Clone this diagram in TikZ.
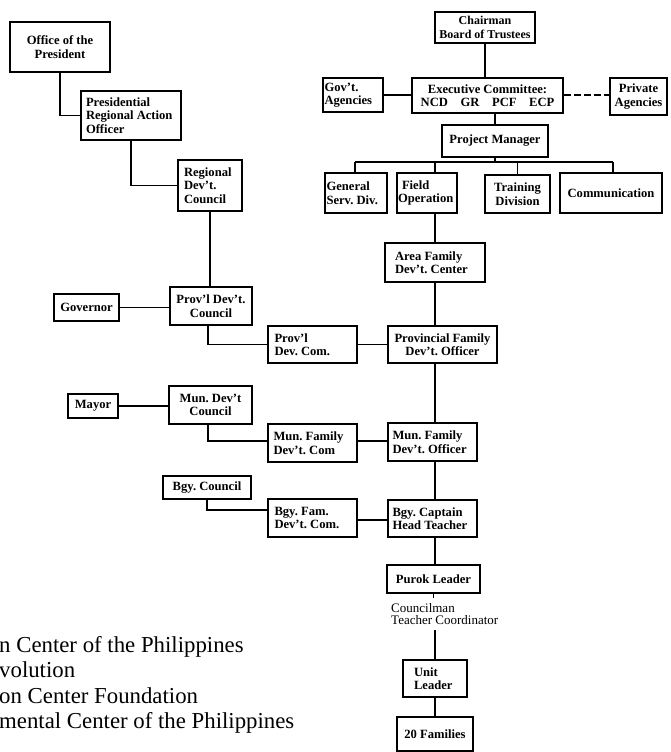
\documentclass[tikz,border=0pt]{standalone}
\usepackage{fontspec}
\setmainfont{Liberation Serif}
\frenchspacing
\begin{document}
\begin{tikzpicture}[x=1pt,y=-1pt,
  box/.style={draw, line width=1.6pt, font=\bfseries\fontsize{12.6}{13.5}\selectfont,
              inner sep=1pt, align=center},
  lbox/.style={box, align=flush left, text width=#1},
  link/.style={line width=1.4pt},
  legend/.style={font=\fontsize{22.8}{25}\selectfont, inner sep=0pt, anchor=base west},
]
\useasboundingbox (0,0) rectangle (671,752);

% ---------- government line (left) ----------
\node[box, minimum width=100pt, minimum height=50pt] (office) at (60,47) {Office of the\\President};
\node[lbox=90pt, minimum width=100pt, minimum height=49pt] (prao) at (131,115.5) {Presidential\\Regional Action\\Officer};
\node[lbox=52pt, minimum width=64pt, minimum height=51pt] (rdc) at (210,185.5) {Regional\\Dev't.\\Council};
\node[box, minimum width=82pt, minimum height=38pt] (pdc) at (211,306) {Prov'l Dev't.\\Council};
\node[box, minimum width=65pt, minimum height=27pt] (governor) at (86.5,307.5) {Governor};
\node[lbox=76pt, minimum width=89pt, minimum height=37pt] (pdcom) at (312.5,344.5) {Prov'l\\Dev. Com.};
\node[box, minimum width=83pt, minimum height=38pt] (mdc) at (210.5,405) {Mun. Dev't\\Council};
\node[box, minimum width=50pt, minimum height=24pt] (mayor) at (93,406) {Mayor};
\node[lbox=78pt, minimum width=89pt, minimum height=38pt] (mfdcom) at (312.5,443) {Mun. Family\\Dev't. Com};
\node[box, minimum width=88pt, minimum height=23pt] (bgyc) at (207,487.5) {Bgy. Council};
\node[lbox=76pt, minimum width=89pt, minimum height=38pt] (bgyfam) at (312.5,518) {Bgy. Fam.\\Dev't. Com.};

% ---------- foundation line (right) ----------
\node[box, minimum width=100pt, minimum height=31pt, font=\bfseries\fontsize{12}{13.5}\selectfont]
  (chair) at (485,27.5) {Chairman\\Board of Trustees};
\node[box, minimum width=151pt, minimum height=35pt] (exec) at (487.5,95.5) {Executive Committee:\\NCD\quad GR\quad PCF\quad ECP};
\node[lbox=57pt, minimum width=60pt, minimum height=34pt] (gov) at (353,95) {Gov't.\\Agencies};
\node[box, minimum width=57pt, minimum height=37pt] (priv) at (638.5,96.5) {Private\\Agencies};
\node[box, minimum width=106pt, minimum height=32pt] (pm) at (495,141) {Project Manager};
\node[lbox=59pt, minimum width=62pt, minimum height=40pt] (gsd) at (356,193) {General\\Serv. Div.};
\node[lbox=58pt, minimum width=60pt, minimum height=40pt] (fop) at (427,193) {\hspace*{4pt}Field\\Operation};
\node[box, minimum width=65pt, minimum height=38pt] (tdiv) at (517.5,194) {Training\\Division};
\node[box, minimum width=102pt, minimum height=40pt] (comm) at (611,193) {Communication};

\node[lbox=80pt, minimum width=100pt, minimum height=39pt] (afdc) at (435,262.5) {Area Family\\Dev't. Center};
\node[box, minimum width=109pt, minimum height=37pt] (pfdo) at (442.5,344.5) {Provincial Family\\Dev't. Officer};
\node[lbox=80pt, minimum width=89pt, minimum height=38pt] (mfdo) at (432.5,442) {Mun. Family\\Dev't. Officer};
\node[lbox=80pt, minimum width=89pt, minimum height=37pt] (bgycap) at (432.5,518.5) {Bgy. Captain\\Head Teacher};
\node[box, minimum width=93pt, minimum height=28pt] (purok) at (433.5,579) {Purok Leader};
\node[font=\fontsize{13}{12}\selectfont, align=left, anchor=north west, inner sep=0pt]
  (coordinator) at (391,603) {Councilman\\Teacher Coordinator};
\node[lbox=42pt, minimum width=64pt, minimum height=37pt] (unit) at (435,678.5) {Unit\\Leader};
\node[box, minimum width=76pt, minimum height=34pt] (fam) at (435,734) {20 Families};

% ---------- connectors ----------
\coordinate (axis) at (435,0);
\coordinate (busL) at (355,162);
\coordinate (busR) at (613,162);
\coordinate (purokstub) at (433.5,598);
\coordinate (unitfeed) at (435,630);

\draw[link] (office.south) |- (prao.west);
\draw[link] (prao.south) |- (rdc.west);
\draw[link] (rdc.south) -- (rdc.south |- pdc.north);
\draw[link] (governor.east) -- (governor.east -| pdc.west);
\draw[link] ([xshift=-3pt]pdc.south) |- (pdcom.west);
\draw[link] (pdcom.east) -- (pdcom.east -| pfdo.west);
\draw[link] (mayor.east) -- (mayor.east -| mdc.west);
\draw[link] ([xshift=-2.5pt]mdc.south) |- ([yshift=2pt]mfdcom.west);
\draw[link] ([yshift=2pt]mfdcom.east) -- ([yshift=2pt]mfdcom.east -| mfdo.west);
\draw[link] (bgyc.south) |- ([yshift=8pt]bgyfam.west);
\draw[link] ([yshift=-2pt]bgyfam.east) -- ([yshift=-2pt]bgyfam.east -| bgycap.west);

\draw[link] (chair.south) -- (chair.south |- exec.north);
\draw[link] (gov.east) -- (gov.east -| exec.west);
\draw[link, dash pattern=on 7pt off 3pt] (exec.east |- gov.east) -- (gov.east -| priv.west);
\draw[link] (pm.north) -- (pm.north |- exec.south);
\draw[link] (pm.south) -- (pm.south |- busL);
\draw[link] (busL) -- (busR);
\draw[link] (busL) -- (busL |- gsd.north);
\draw[link] (axis |- busL) -- (axis |- fop.north);
\draw[link] (tdiv.north |- busL) -- (tdiv.north);
\draw[link] (busR) -- (busR |- comm.north);

\draw[link] (axis |- fop.south) -- (afdc.north);
\draw[link] (afdc.south) -- (afdc.south |- pfdo.north);
\draw[link] (axis |- pfdo.south) -- (axis |- mfdo.north);
\draw[link] (axis |- mfdo.south) -- (axis |- bgycap.north);
\draw[link] (axis |- bgycap.south) -- (axis |- purok.north);
\draw[link] (purok.south) -- (purokstub);
\draw[link] (unitfeed) -- (unit.north);
\draw[link] (unit.south) -- (fam.north);

% ---------- abbreviations ----------
\node[legend] (leg1) at (-1,652) {n Center of the Philippines};
\node[legend] (leg2) at (-1,677.5) {volution};
\node[legend] (leg3) at (-1,703) {on Center Foundation};
\node[legend] (leg4) at (-1,728.5) {mental Center of the Philippines};
\end{tikzpicture}
\end{document}
